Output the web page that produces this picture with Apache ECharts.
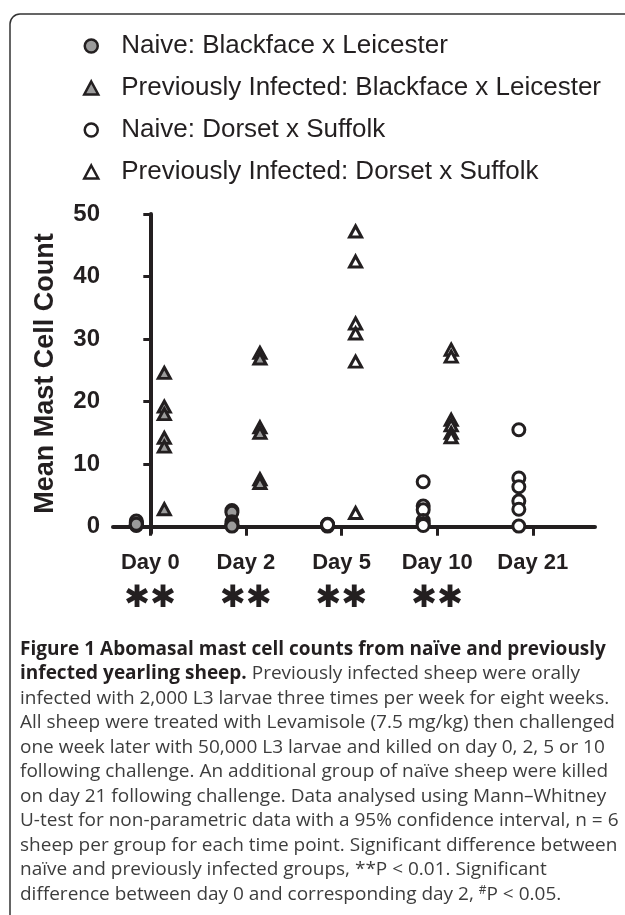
<!DOCTYPE html>
<html><head><meta charset="utf-8">
<script src="https://cdn.jsdelivr.net/npm/echarts@6/dist/echarts.min.js"></script>
<style>html,body{margin:0;padding:0;background:#fff}#c{width:625px;height:915px}</style>
</head><body><div id="c"></div>
<script>
// ---- data ----
const categories = ['Day 0', 'Day 2', 'Day 5', 'Day 10', 'Day 21'];
const significance = ['✱✱', '✱✱', '✱✱', '✱✱', ''];
const yTicks = [0, 10, 20, 30, 40, 50];
const seriesNames = [
  'Naive: Blackface x Leicester',
  'Previously Infected: Blackface x Leicester',
  'Naive: Dorset x Suffolk',
  'Previously Infected: Dorset x Suffolk'
];
// values per category (Day 0, Day 2, Day 5, Day 10, Day 21)
const naiveBlackfaceLeicester = [[0.3, 0.5, 0.7, 0.9, 0.2, 0.4], [2.6, 2.3, 0.8, 0.4, 0.2, 0.1], [], [], []];
const infectedBlackfaceLeicester = [[24.6, 19.2, 18.0, 14.2, 12.8, 2.8], [27.8, 26.9, 15.9, 15.0, 7.6, 7.0], [], [], []];
const naiveDorsetSuffolk = [[], [], [0.3, 0.2, 0.1, 0.4, 0.2, 0.3], [7.2, 3.3, 2.7, 1.0, 0.5, 0.2], [15.5, 7.8, 6.4, 4.1, 2.8, 0.1]];
const infectedDorsetSuffolk = [[], [], [47.2, 42.4, 32.5, 30.9, 26.4, 2.2], [28.3, 27.2, 17.1, 16.2, 15.0, 14.3], []];
const captionLines = [
  [['b', 'Figure 1 Abomasal mast cell counts from naïve and previously']],
  [['b', 'infected yearling sheep.'], ['r', ' Previously infected sheep were orally']],
  [['r', 'infected with 2,000 L3 larvae three times per week for eight weeks.']],
  [['r', 'All sheep were treated with Levamisole (7.5 mg/kg) then challenged']],
  [['r', 'one week later with 50,000 L3 larvae and killed on day 0, 2, 5 or 10']],
  [['r', 'following challenge. An additional group of naïve sheep were killed']],
  [['r', 'on day 21 following challenge. Data analysed using Mann–Whitney']],
  [['r', 'U-test for non-parametric data with a 95% confidence interval, n = 6']],
  [['r', 'sheep per group for each time point. Significant difference between']],
  [['r', 'naïve and previously infected groups, **P < 0.01. Significant']],
  [['r', 'difference between day 0 and corresponding day 2, '], ['sup', '#'], ['r', 'P < 0.05.']]
];

// ---- chart ----
const INK = '#231f20';
const GRAY = '#9b9b9b';
function toPoints(arr) {
  return arr.flatMap((vals, i) => vals.map(v => [i, v]));
}
const chart = echarts.init(document.getElementById('c'), null, { renderer: 'canvas' });

const captionGraphics = captionLines.map((line, i) => ({
  type: 'text',
  left: 20,
  top: 640 + i * 24.5,
  style: {
    text: line.map(([k, t]) => '{' + k + '|' + t + '}').join(''),
    rich: {
      b: { fontFamily: 'Open Sans', fontWeight: 'bold', fontSize: 19, fill: INK },
      r: { fontFamily: 'Open Sans', fontSize: 19, fill: '#3d3d3d' },
      sup: { fontFamily: 'Open Sans', fontSize: 12, fill: '#3d3d3d', verticalAlign: 'top', padding: [0, 0, 8, 0] }
    }
  }
}));

const option = {
  animation: false,
  backgroundColor: '#fff',
  textStyle: { fontFamily: 'Liberation Sans' },
  legend: {
    orient: 'vertical',
    left: 78,
    top: 28,
    itemGap: 16,
    itemWidth: 14,
    itemHeight: 13,
    data: seriesNames,
    itemStyle: { borderColor: INK, borderWidth: 2.5 },
    formatter: n => '{t|' + n + '}',
    textStyle: {
      rich: { t: { fontSize: 26, color: '#231f20', fontFamily: 'Liberation Sans', padding: [0, 0, 0, 18] } }
    }
  },
  grid: { left: 113, right: 30, top: 214, bottom: 382, containLabel: false },
  xAxis: {
    type: 'value',
    min: -0.39,
    max: 4.65,
    splitLine: { show: false },
    axisLine: { lineStyle: { color: INK, width: 4 } },
    axisTick: { show: true, customValues: [0, 1, 2, 3, 4], length: 9, lineStyle: { color: INK, width: 3 } },
    axisLabel: {
      customValues: [0, 1, 2, 3, 4],
      margin: 17,
      formatter: v => {
        const i = Math.round(v);
        return '{d|' + categories[i] + '}' + (significance[i] ? '\n{s|' + significance[i] + '}' : '');
      },
      rich: {
        d: { fontSize: 22, fontWeight: 'bold', color: INK, fontFamily: 'Liberation Sans', lineHeight: 26 },
        s: { fontSize: 31, color: INK, fontFamily: 'DejaVu Sans', lineHeight: 46 }
      }
    }
  },
  yAxis: {
    type: 'value',
    min: -1,
    max: 50,
    splitLine: { show: false },
    name: 'Mean Mast Cell Count',
    nameLocation: 'middle',
    nameRotate: 90,
    nameGap: 54,
    nameTextStyle: { fontSize: 27, fontWeight: 'bold', color: INK, fontFamily: 'Liberation Sans' },
    axisLine: { show: true, lineStyle: { color: INK, width: 4 } },
    axisTick: { show: true, customValues: yTicks, length: 7, lineStyle: { color: INK, width: 3 } },
    axisLabel: { customValues: yTicks, margin: 13, fontSize: 24, fontWeight: 'bold', color: INK, fontFamily: 'Liberation Sans' }
  },
  graphic: [
    { type: 'rect', shape: { x: 10, y: 14, width: 700, height: 1000, r: 10 }, style: { fill: 'none', stroke: '#333', lineWidth: 1.5 }, silent: true, z: -10 },
    ...captionGraphics
  ],
  series: [
    { name: seriesNames[0], type: 'scatter', symbol: 'circle', symbolSize: 12, symbolOffset: [-14, 0],
      itemStyle: { color: GRAY, borderColor: INK, borderWidth: 3, opacity: 1 }, data: toPoints(naiveBlackfaceLeicester) },
    { name: seriesNames[1], type: 'scatter', symbol: 'triangle', symbolSize: [12, 11], symbolOffset: [14, 0],
      itemStyle: { color: GRAY, borderColor: INK, borderWidth: 3, opacity: 1 }, data: toPoints(infectedBlackfaceLeicester) },
    { name: seriesNames[2], type: 'scatter', symbol: 'circle', symbolSize: 12, symbolOffset: [-14, 0],
      itemStyle: { color: '#fff', borderColor: INK, borderWidth: 3, opacity: 1 }, data: toPoints(naiveDorsetSuffolk) },
    { name: seriesNames[3], type: 'scatter', symbol: 'triangle', symbolSize: [12, 11], symbolOffset: [14, 0],
      itemStyle: { color: '#fff', borderColor: INK, borderWidth: 3, opacity: 1 }, data: toPoints(infectedDorsetSuffolk) }
  ]
};
chart.setOption(option);
</script></body></html>
